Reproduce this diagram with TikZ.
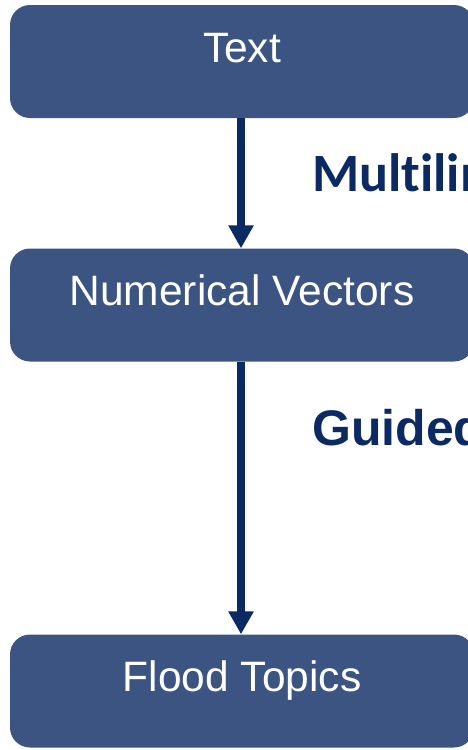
\documentclass[tikz,border=0pt]{standalone}
\usepackage{fontspec}
\setmainfont{Liberation Sans}
\newfontfamily\carlito[Ligatures={NoCommon,NoRare,NoContextual}]{Carlito}
\usetikzlibrary{arrows.meta}
\definecolor{boxblue}{HTML}{3C5482}
\definecolor{navy}{HTML}{0B2A64}
\begin{document}
\begin{tikzpicture}[x=1pt,y=-1pt,
  stagebox/.style={rectangle, rounded corners=20pt, fill=boxblue, draw=none,
    minimum width=464pt, minimum height=113pt, inner sep=0pt,
    text height=30pt, text depth=29pt, text=white,
    font=\fontsize{42.5}{48}\selectfont},
  flowarrow/.style={draw=navy, line width=8pt,
    -{Triangle[width=24pt,length=23pt]}},
  steplabel/.style={anchor=base west, inner sep=0pt, text=navy}]
\useasboundingbox (0,0) rectangle (467,750);
\node[stagebox] (txt) at (242,61.5) {Text};
\node[stagebox] (vec) at (242,305) {Numerical Vectors};
\node[stagebox] (top) at (242,691) {Flood Topics};
\draw[flowarrow] ([xshift=-1pt]txt.south) -- ([xshift=-1pt]vec.north);
\draw[flowarrow] ([xshift=-1pt]vec.south) -- ([xshift=-1pt]top.north);
\node[steplabel, font=\carlito\bfseries\fontsize{54}{60}\selectfont] (ml) at (312,191) {Multilin};
\node[steplabel, font=\bfseries\fontsize{50}{56}\selectfont] (gd) at (312,445) {Guided};
\end{tikzpicture}
\end{document}
